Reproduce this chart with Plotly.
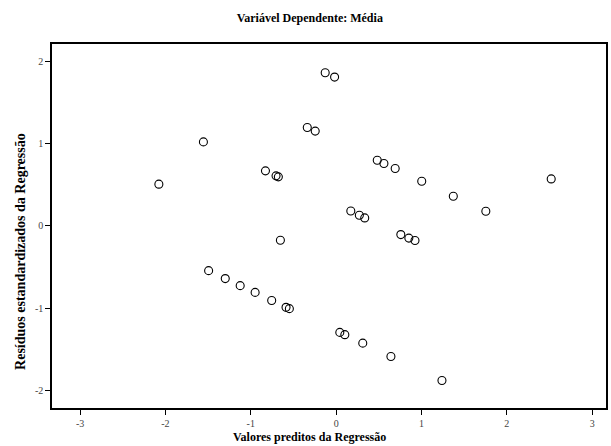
import plotly.graph_objects as go

# Predicted values (standardized) and standardized residuals
predicted = [-2.077, -1.555, -0.828, -0.704, -0.677, -0.338, -0.245, -0.128, -0.018,
             -0.653, 0.482, 0.560, 0.692, 1.003, 1.373, 2.520, 1.754, 0.172, 0.272,
             0.335, 0.758, 0.852, 0.924, -1.494, -1.299, -1.124, -0.949, -0.755,
             -0.587, -0.548, 0.043, 0.102, 0.312, 0.642, 1.240]
residuals = [0.509, 1.024, 0.671, 0.610, 0.598, 1.200, 1.155, 1.866, 1.813,
             -0.174, 0.801, 0.761, 0.700, 0.545, 0.362, 0.573, 0.179, 0.183, 0.130,
             0.098, -0.105, -0.148, -0.178, -0.544, -0.641, -0.727, -0.809, -0.907,
             -0.991, -1.007, -1.296, -1.324, -1.427, -1.589, -1.882]

x_ticks = [-3, -2, -1, 0, 1, 2, 3]
x_tick_labels = ["-3", "-2", "-1", "0", "1", "2", "3"]
y_ticks = [-2, -1, 0, 1, 2]
y_tick_labels = ["-2", "-1", "0", "1", "2"]

serif = "Liberation Serif, Times New Roman, serif"

fig = go.Figure(go.Scatter(
    x=predicted, y=residuals, mode="markers",
    marker=dict(symbol="circle-open", size=8, color="black", line=dict(width=1.1)),
    hoverinfo="x+y",
))

axis_common = dict(
    showgrid=False, zeroline=False, showline=True, linecolor="black", linewidth=1.5,
    mirror=True, ticks="outside", ticklen=5, tickwidth=1, tickcolor="black",
    tickfont=dict(family=serif, size=10, color="#444"),
)

fig.update_layout(
    width=611, height=446,
    margin=dict(l=52, r=3, t=44, b=38),
    paper_bgcolor="white", plot_bgcolor="white",
    showlegend=False,
    title=dict(text="<b>Variável Dependente: Média</b>", x=0.507, xanchor="center",
               y=0.96, yanchor="middle",
               font=dict(family=serif, size=12, color="black")),
    xaxis=dict(range=[-3.329, 3.162], tickvals=x_ticks, ticktext=x_tick_labels,
               **axis_common),
    yaxis=dict(range=[-2.217, 2.216], tickvals=y_ticks, ticktext=y_tick_labels,
               **axis_common),
    annotations=[
        dict(text="<b>Valores preditos da Regressão</b>", xref="paper", yref="paper",
             x=0.464, y=-0.081, xanchor="center", yanchor="middle", showarrow=False,
             font=dict(family=serif, size=12, color="black")),
        dict(text="<b>Resíduos estandardizados da Regressão</b>", xref="paper",
             yref="paper", x=-0.057, y=0.43, xanchor="center", yanchor="middle",
             textangle=-90, showarrow=False,
             font=dict(family=serif, size=14, color="black")),
    ],
)

fig.write_html("out.html")
